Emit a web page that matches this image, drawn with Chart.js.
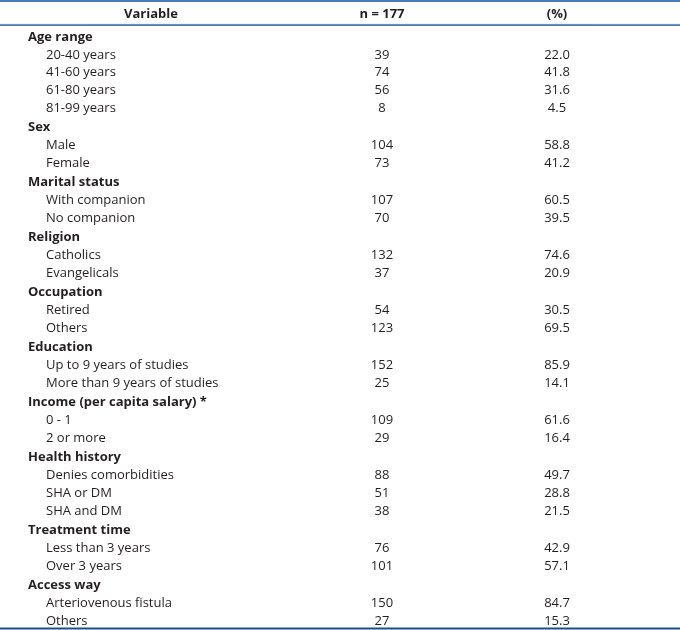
<!DOCTYPE html>
<html>
<head>
<meta charset="utf-8">
<script src="https://cdn.jsdelivr.net/npm/chart.js@4/dist/chart.umd.min.js"></script>
<style>
  html, body { margin: 0; padding: 0; background: #fff; }
  canvas { display: block; }
</style>
</head>
<body>
<canvas id="table-chart" width="680" height="630"></canvas>
<script>
const headers = ["Variable", "n = 177", "(%)"];
const groupNames = [
  "Age range", "Sex", "Marital status", "Religion", "Occupation",
  "Education", "Income (per capita salary) *", "Health history",
  "Treatment time", "Access way"
];
const groupSizes = [4, 2, 2, 2, 2, 2, 2, 3, 2, 2];
const itemLabels = [
  "20-40 years", "41-60 years", "61-80 years", "81-99 years",
  "Male", "Female",
  "With companion", "No companion",
  "Catholics", "Evangelicals",
  "Retired", "Others",
  "Up to 9 years of studies", "More than 9 years of studies",
  "0 - 1", "2 or more",
  "Denies comorbidities", "SHA or DM", "SHA and DM",
  "Less than 3 years", "Over 3 years",
  "Arteriovenous fistula", "Others"
];
const counts = [39, 74, 56, 8, 104, 73, 107, 70, 132, 37, 54, 123, 152, 25, 109, 29, 88, 51, 38, 76, 101, 150, 27];
const percents = [22.0, 41.8, 31.6, 4.5, 58.8, 41.2, 60.5, 39.5, 74.6, 20.9, 30.5, 69.5, 85.9, 14.1, 61.6, 16.4, 49.7, 28.8, 21.5, 42.9, 57.1, 84.7, 15.3];

const FONT = "'Open Sans', 'Noto Sans', sans-serif";
const FONT_SIZE = 13;
const TEXT_COLOR = "#231f20";
const headerGap = 0.09; // a group row sits a little lower than the item pitch

// column anchors on the x scale
const colGroup = 28;
const colItem = 46;
const colVariable = 151;
const colCount = 382;
const colPercent = 557;
const headerRow = -1.29;

// build row positions (row units on the y scale)
const labelPoints = [];
const labelTexts = [];
const labelBold = [];
const countPoints = [];
const countTexts = [];
const percentPoints = [];
const percentTexts = [];

let row = 0;
let item = 0;
groupNames.forEach((name, g) => {
  const pos = row + g * headerGap;
  labelPoints.push({ x: colGroup, y: pos });
  labelTexts.push(name);
  labelBold.push(true);
  row++;
  for (let k = 0; k < groupSizes[g]; k++) {
    const p = row + g * headerGap;
    labelPoints.push({ x: colItem, y: p });
    labelTexts.push(itemLabels[item]);
    labelBold.push(false);
    countPoints.push({ x: colCount, y: p });
    countTexts.push(String(counts[item]));
    percentPoints.push({ x: colPercent, y: p });
    percentTexts.push(percents[item].toFixed(1));
    row++;
    item++;
  }
});

const rules = [
  { y: -2.03, width: 2, color: "#4a7ebb" },
  { y: -0.71, width: 1, color: "#6f9bd1" },
  { y: -0.66, width: 1, color: "#1f4e8c" },
  { y: 33.23, width: 2, color: "#1a4f8c" }
];

const tableRules = {
  id: "tableRules",
  beforeDatasetsDraw(chart) {
    const { ctx, chartArea, scales } = chart;
    ctx.save();
    for (const r of rules) {
      const y = scales.y.getPixelForValue(r.y);
      ctx.strokeStyle = r.color;
      ctx.lineWidth = r.width;
      ctx.beginPath();
      ctx.moveTo(chartArea.left, y);
      ctx.lineTo(chartArea.right, y);
      ctx.stroke();
    }
    ctx.restore();
  }
};

const cellText = {
  id: "cellText",
  afterDatasetsDraw(chart) {
    const { ctx } = chart;
    ctx.save();
    ctx.fillStyle = TEXT_COLOR;
    ctx.textBaseline = "middle";
    chart.data.datasets.forEach((ds, i) => {
      const meta = chart.getDatasetMeta(i);
      ctx.textAlign = ds.align;
      meta.data.forEach((pt, j) => {
        const bold = ds.bold ? ds.bold[j] : false;
        ctx.font = (bold ? "bold " : "") + FONT_SIZE + "px " + FONT;
        ctx.fillText(ds.texts[j], pt.x, pt.y);
      });
    });
    ctx.restore();
  }
};

new Chart(document.getElementById("table-chart"), {
  type: "scatter",
  data: {
    datasets: [
      {
        label: "header",
        data: [
          { x: colVariable, y: headerRow },
          { x: colCount, y: headerRow },
          { x: colPercent, y: headerRow }
        ],
        texts: headers,
        bold: [true, true, true],
        align: "center",
        pointRadius: 0
      },
      { label: "variable", data: labelPoints, texts: labelTexts, bold: labelBold, align: "left", pointRadius: 0 },
      { label: "n", data: countPoints, texts: countTexts, align: "center", pointRadius: 0 },
      { label: "%", data: percentPoints, texts: percentTexts, align: "center", pointRadius: 0 }
    ]
  },
  options: {
    responsive: false,
    animation: false,
    events: [],
    layout: { padding: 0 },
    scales: {
      x: { type: "linear", min: 0, max: 680, display: false },
      y: { type: "linear", min: -2.08, max: 33.31, reverse: true, display: false }
    },
    plugins: {
      legend: { display: false },
      tooltip: { enabled: false }
    }
  },
  plugins: [tableRules, cellText]
});
</script>
</body>
</html>
